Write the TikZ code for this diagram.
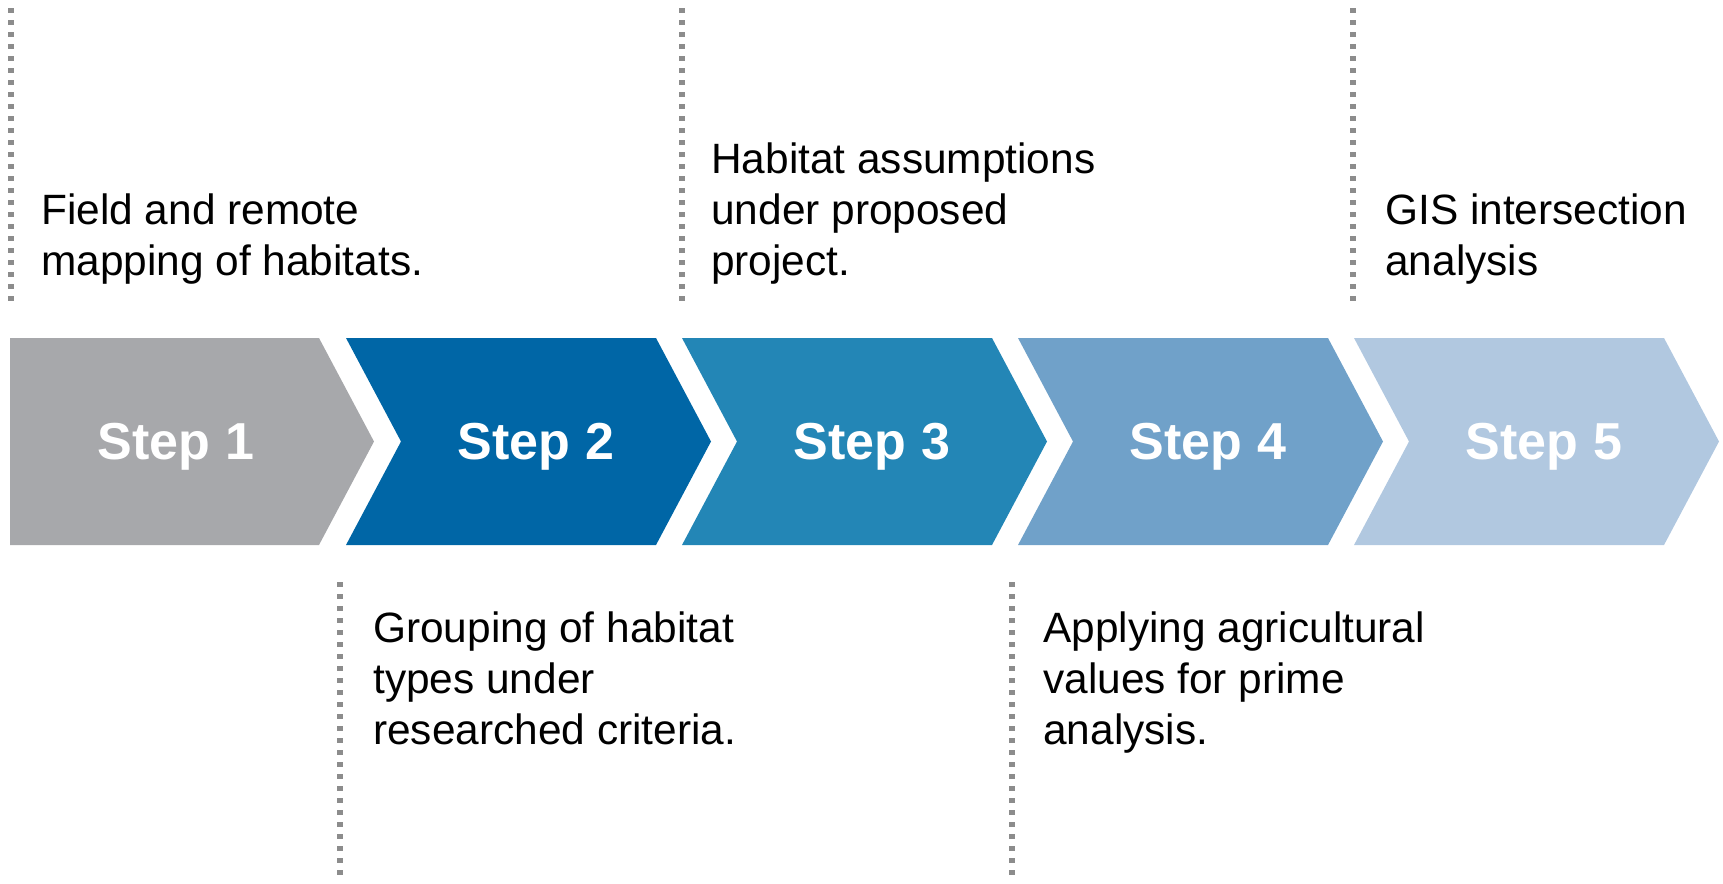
\documentclass[tikz,border=0pt]{standalone}
\usepackage{fontspec}
\setmainfont{Liberation Sans}
\usepackage{tikz}
\usetikzlibrary{positioning}

\definecolor{stepgray}{HTML}{A7A8AB}
\definecolor{steptwo}{HTML}{0066A6}
\definecolor{stepthree}{HTML}{2386B6}
\definecolor{stepfour}{HTML}{70A1C9}
\definecolor{stepfive}{HTML}{B1C8E0}
\definecolor{guidegray}{HTML}{8C8C8C}

\begin{document}
\begin{tikzpicture}[
  x=0.75pt, y=-0.75pt,
  steplabel/.style={text=white, anchor=base, inner sep=0,
                    font=\bfseries\fontsize{39}{47}\selectfont},
  note/.style={align=left, inner sep=0, font=\fontsize{31.8}{38.3}\selectfont},
  guide/.style={draw=guidegray, line width=4.2pt, dash pattern=on 3.4pt off 5.6pt}
]
\useasboundingbox (0,0) rectangle (1723,883);

% first step has a flat back
\fill[stepgray] (10,338) -- (319,338) -- (374,441.5) -- (319,545) -- (10,545) -- cycle;
\node[steplabel] (s1) at (176,459) {Step 1};

% the other steps are notched chevrons
\foreach \i/\col in {2/steptwo,3/stepthree,4/stepfour,5/stepfive} {
  \pgfmathsetmacro\lft{346+(\i-2)*336}
  \fill[\col] (\lft,338) -- ++(310,0) -- ++(55,103.5) -- ++(-55,103.5)
              -- ++(-310,0) -- ++(55,-103.5) -- cycle;
  \node[steplabel] (s\i) at (\lft+190,459) {Step \i};
}

% notes above and below
\node[note, anchor=south west] (n1) at (41,285) {Field and remote\\mapping of habitats.};
\node[note, anchor=south west] (n3) at (711,285) {Habitat assumptions\\under proposed\\project.};
\node[note, anchor=south west] (n5) at (1385,285) {GIS intersection\\analysis};
\node[note, anchor=north west] (n2) at (373,611) {Grouping of habitat\\types under\\researched criteria.};
\node[note, anchor=north west] (n4) at (1043,611) {Applying agricultural\\values for prime\\analysis.};

% dotted guides
\draw[guide] (11,8) -- (11,303);
\draw[guide] (682,8) -- (682,303);
\draw[guide] (1353,8) -- (1353,303);
\draw[guide] (340,582) -- (340,877);
\draw[guide] (1012,582) -- (1012,877);
\end{tikzpicture}
\end{document}
